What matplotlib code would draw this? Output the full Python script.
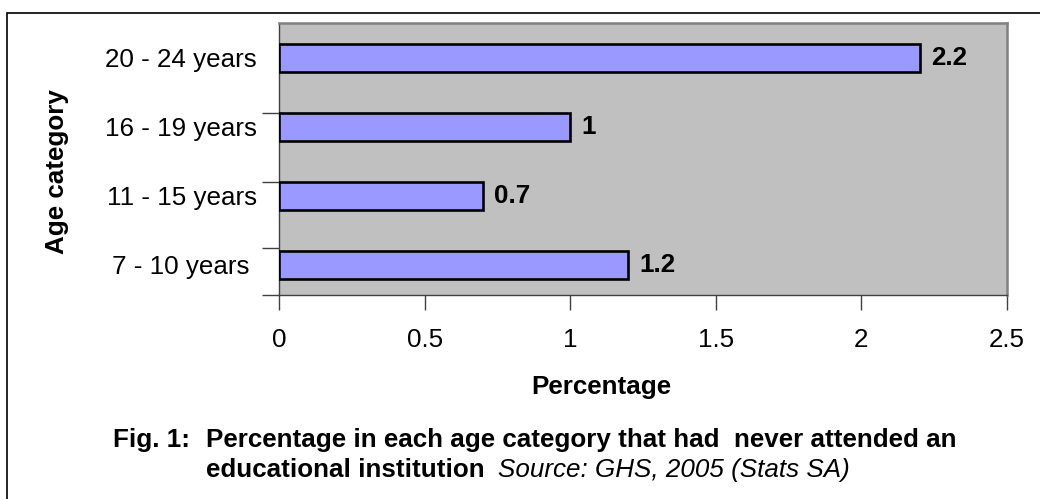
import matplotlib
matplotlib.use("Agg")
import matplotlib.pyplot as plt
from matplotlib.patches import Rectangle

categories = ["7 - 10 years ", "11 - 15 years", "16 - 19 years", "20 - 24 years"]
values = [1.2, 0.7, 1.0, 2.2]
value_labels = ["1.2", "0.7", "1", "2.2"]
x_ticks = [0, 0.5, 1, 1.5, 2, 2.5]
x_tick_labels = ["0", "0.5", "1", "1.5", "2", "2.5"]

W, H = 1040, 499
FS = 18.7
plt.rcParams['font.family'] = ['Liberation Sans', 'DejaVu Sans']

fig = plt.figure(figsize=(W / 100, H / 100), dpi=100)
fig.patch.set_facecolor('white')

def fx(px):
    return px / W

def fy(py):
    return 1 - py / H

# outer frame
fig.patches.append(Rectangle((fx(7), fy(520)), fx(1100) - fx(7), fy(13) - fy(520),
                             transform=fig.transFigure, fill=False,
                             edgecolor='black', linewidth=1.2))

L, T, R, B = 279, 23, 1007, 295
ax = fig.add_axes([fx(L), fy(B), fx(R) - fx(L), fy(T) - fy(B)])
ax.set_facecolor('#C0C0C0')

ypos = list(range(len(categories)))
ax.barh(ypos, values, height=0.4, color='#9999FF', edgecolor='black', linewidth=1.9, zorder=3)

ax.set_xlim(0, 2.5)
ax.set_ylim(-0.435, 3.507)

ax.set_xticks(x_ticks)
ax.set_xticklabels(x_tick_labels, fontsize=FS)
ax.tick_params(axis='x', direction='out', length=11, width=1, color='#404040', pad=13)

ax.set_yticks(ypos)
ax.set_yticklabels(categories, fontsize=FS)
ax.tick_params(axis='y', which='major', length=0, pad=16)
ax.set_yticks([2.2, 1.2, 0.25, -0.435], minor=True)
ax.tick_params(axis='y', which='minor', direction='out', length=12, width=1, color='#404040')

for s in ['left', 'bottom']:
    ax.spines[s].set_color('#404040')
    ax.spines[s].set_linewidth(1.0)
for s in ['top', 'right']:
    ax.spines[s].set_color('#808080')
    ax.spines[s].set_linewidth(1.8)

for y, v, lab in zip(ypos, values, value_labels):
    ax.annotate(lab, (v, y), xytext=(8, 0), textcoords='offset points',
                ha='left', va='center', fontsize=FS, fontweight='bold')

fig.text(fx(57), fy(172), "Age category", rotation=90, ha='center', va='center',
         fontsize=FS, fontweight='bold')
fig.text(fx(601), fy(394), "Percentage", ha='center', va='baseline',
         fontsize=FS, fontweight='bold')

fig.text(fx(113), fy(447), "Fig. 1:", ha='left', va='baseline', fontsize=FS, fontweight='bold')
fig.text(fx(206), fy(447), "Percentage in each age category that had  never attended an",
         ha='left', va='baseline', fontsize=FS, fontweight='bold')
fig.text(fx(206), fy(477), "educational institution", ha='left', va='baseline',
         fontsize=FS, fontweight='bold')
fig.text(fx(498), fy(477), "Source: GHS, 2005 (Stats SA)", ha='left', va='baseline',
         fontsize=FS, fontstyle='italic')

fig.savefig("out.png", dpi=100)
